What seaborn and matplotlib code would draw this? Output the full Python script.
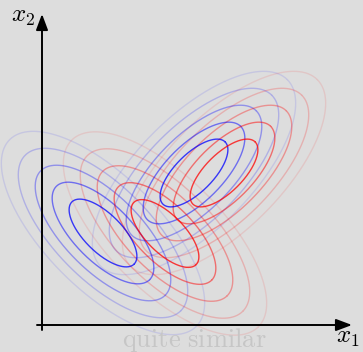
import numpy as np
import pandas as pd
import matplotlib
matplotlib.use("Agg")
import matplotlib.pyplot as plt
import seaborn as sns

sns.set_theme(style="white")
plt.rcParams["mathtext.fontset"] = "cm"

# Two Gaussian mixtures, each with two components
components = ["blue 1", "blue 2", "red 1", "red 2"]
center_x = [61, 152, 123, 182]
center_y = [92, 152, 91.5, 152]
angles_deg = [-45, 45, -45, 45]
colors = ["blue", "blue", "red", "red"]

# unit-sigma semi-axes (major, minor) and the contour levels drawn
semi_major = [22, 22, 22, 22]
semi_minor = [9.5, 9.5, 9.5, 9.5]
levels = [2, 3, 4, 5, 6]
level_alpha = [0.75, 0.5, 0.34, 0.2, 0.1]

fig = plt.figure(figsize=(3.63, 3.52), dpi=100, facecolor="#dddddd")
ax = fig.add_axes([0, 0, 1, 1])
ax.set_facecolor("#dddddd")

t = np.linspace(0, 2 * np.pi, 400)
for lev, alpha in reversed(list(zip(levels, level_alpha))):
    for name, cx, cy, ang, col, a, b in zip(components, center_x, center_y,
                                            angles_deg, colors, semi_major, semi_minor):
        th = np.deg2rad(ang)
        u = lev * a * np.cos(t)
        v = lev * b * np.sin(t)
        df = pd.DataFrame({
            "x": cx + u * np.cos(th) - v * np.sin(th),
            "y": cy + u * np.sin(th) + v * np.cos(th),
        })
        sns.lineplot(data=df, x="x", y="y", sort=False, estimator=None,
                     color=col, alpha=alpha, lw=1.0, ax=ax)

# coordinate axes with arrow heads
arrow = dict(arrowstyle="-|>,head_length=0.8,head_width=0.3", color="black",
             lw=1.4, shrinkA=0, shrinkB=0)
ax.annotate("", xy=(0, 311), xytext=(0, -5), arrowprops=arrow)
ax.annotate("", xy=(310, 0), xytext=(-5, 0), arrowprops=arrow)

ax.text(-19, 309, r"$x_2$", fontsize=18, ha="center", va="center", color="black")
ax.text(306, -12, r"$x_1$", fontsize=18, ha="center", va="center", color="black")
ax.text(152, -15, r"$\mathrm{quite\ similar}$", fontsize=19, ha="center",
        va="center", color="#c6c6c6")

ax.set_xlim(-42, 321)
ax.set_ylim(-27, 325)
ax.axis("off")

fig.savefig("out.png", dpi=100, facecolor=fig.get_facecolor())
